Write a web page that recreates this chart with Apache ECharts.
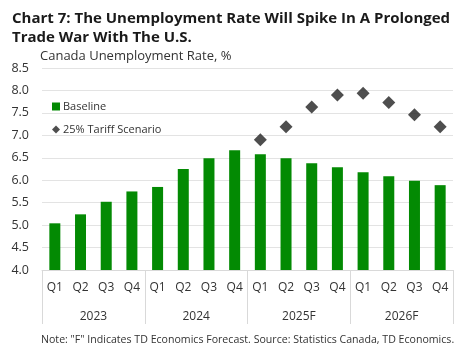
<!DOCTYPE html>
<html>
<head>
<meta charset="utf-8">
<script src="https://cdn.jsdelivr.net/npm/echarts@6/dist/echarts.min.js"></script>
<style>
  html, body { margin: 0; padding: 0; background: #fff; }
  #chart { width: 465px; height: 352px; }
</style>
</head>
<body>
<div id="chart"></div>
<script>
  var quarters = ['Q1','Q2','Q3','Q4','Q1','Q2','Q3','Q4','Q1','Q2','Q3','Q4','Q1','Q2','Q3','Q4'];
  var years = ['2023', '2024', '2025F', '2026F'];
  var baseline = [5.04, 5.24, 5.52, 5.75, 5.85, 6.25, 6.49, 6.67, 6.58, 6.49, 6.38, 6.29, 6.18, 6.09, 5.99, 5.89];
  var tariff = ['-','-','-','-','-','-','-','-', 6.90, 7.19, 7.63, 7.90, 7.94, 7.73, 7.46, 7.19];

  var chart = echarts.init(document.getElementById('chart'));
  var font = 'Open Sans';

  var option = {
    animation: false,
    textStyle: { fontFamily: font },
    title: [
      {
        text: 'Chart 7: The Unemployment Rate Will Spike In A Prolonged\nTrade War With The U.S.',
        left: 12, top: 9, padding: 0,
        textStyle: { fontSize: 15, fontWeight: 'bold', color: '#1a1a1a', lineHeight: 19, fontFamily: font }
      },
      {
        text: 'Canada Unemployment Rate, %',
        left: 40, top: 50, padding: 0,
        textStyle: { fontSize: 13, fontWeight: 'normal', color: '#333', fontFamily: font }
      },
      {
        text: 'Note: "F" Indicates TD Economics Forecast. Source: Statistics Canada, TD Economics.',
        left: 41, top: 334, padding: 0,
        textStyle: { fontSize: 10.6, fontWeight: 'normal', color: '#333', fontFamily: font }
      }
    ],
    legend: {
      orient: 'vertical',
      left: 47, top: 96,
      itemGap: 12,
      itemWidth: 8, itemHeight: 8,
      textStyle: { fontSize: 11, color: '#333', fontFamily: font, padding: [0, 0, 0, -2] },
      data: [
        { name: 'Baseline', icon: 'rect' },
        { name: '25% Tariff Scenario', icon: 'diamond', itemStyle: { color: '#222' } }
      ]
    },
    grid: { left: 42, right: 12, top: 68, bottom: 82 },
    xAxis: [
      {
        type: 'category',
        data: quarters,
        position: 'bottom',
        axisLine: { show: true, lineStyle: { color: '#d9d9d9' } },
        axisTick: { show: false },
        axisLabel: { margin: 12, fontSize: 12, color: '#333', interval: 0 }
      },
      {
        type: 'category',
        data: years,
        position: 'bottom',
        axisLine: { show: false },
        axisTick: { show: true, length: 54, lineStyle: { color: '#d9d9d9' } },
        axisLabel: { margin: 41, fontSize: 12, color: '#333' }
      }
    ],
    yAxis: {
      type: 'value',
      min: 4, max: 8.5, interval: 0.5,
      axisLine: { show: false },
      axisTick: { show: false },
      axisLabel: { fontSize: 12.5, color: '#333', margin: 13, formatter: function (v) { return v.toFixed(1); } },
      splitLine: { lineStyle: { color: '#e3e3e3' } }
    },
    series: [
      {
        name: 'Baseline',
        type: 'bar',
        xAxisIndex: 0,
        data: baseline,
        barWidth: 11,
        itemStyle: { color: '#038a03' }
      },
      {
        name: '25% Tariff Scenario',
        type: 'scatter',
        xAxisIndex: 0,
        data: tariff,
        symbol: 'diamond',
        symbolSize: 13,
        itemStyle: { color: '#222' }
      }
    ]
  };

  chart.setOption(option);
</script>
</body>
</html>
